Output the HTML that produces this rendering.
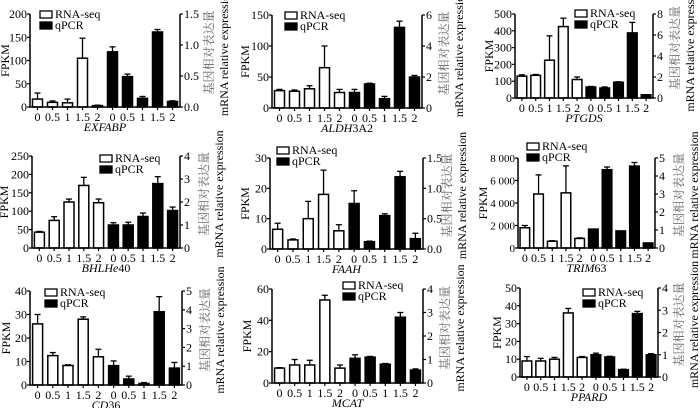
<!DOCTYPE html>
<html><head><meta charset="utf-8"><style>
body{margin:0;background:#fff}
svg{display:block;font-family:"Liberation Serif","Noto Serif CJK SC",serif}
</style></head><body>
<svg id="c" width="700" height="408" viewBox="0 0 700 408" xmlns="http://www.w3.org/2000/svg"></svg>
<script>
const genes = [["EXFABP",""],["ALDH","3A2"],["PTGDS",""],["BHLHe","40"],["FAAH",""],["TRIM","63"],["CD","36"],["MCAT",""],["PPARD",""]];
const timeLabels = ["0","0.5","1","1.5","2"];
const rnaSeq = [[17,10,9,105,3],[28,27,31,65,25],[130,135,225,425,110],[43,75,125,170,123],[6.5,3,10,18,6],[1800,4800,600,4900,850],[26,12.5,8.3,28,12],[9.5,11.5,11.5,53,9.5],[9,9,10,36,11]];
const rnaErr = [[13,3,8,43,1],[2,2,5,35,5],[8,5,145,50,15],[2,10,8,22,10],[2,0.3,5.7,8,2],[200,1700,50,2400,50],[4,1.3,0.3,1,3.2],[0.3,3.5,3,3,2],[2.5,1.5,1,2.5,0.5]];
const qpcr = [[0.89,0.49,0.14,1.21,0.09],[1.0,1.55,0.6,5.2,2.0],[1.05,0.95,1.5,6.2,0.3],[1.0,1.0,1.37,2.8,1.63],[0.75,0.12,0.55,1.19,0.17],[1.05,4.35,0.95,4.55,0.28],[1.03,0.32,0.08,3.9,0.9],[1.05,1.1,0.8,2.8,0.55],[1.0,0.9,0.33,2.85,1.0]];
const qpcrErr = [[0.08,0.04,0.03,0.04,0.01],[0.2,0.05,0.15,0.4,0.1],[0.05,0.1,0.05,1.0,0.02],[0.1,0.12,0.15,0.3,0.15],[0.21,0.01,0.03,0.09,0.09],[0,0.15,0,0.2,0],[0.25,0.15,0.05,0.8,0.3],[0.15,0.03,0.03,0.2,0.05],[0.07,0.03,0.02,0.1,0.05]];
const leftTicks = [["0","50","100","150","200"],["0","50","100","150"],["0","100","200","300","400","500"],["0","50","100","150","200","250"],["0","10","20","30"],["0","2 000","4 000","6 000","8 000"],["0","10","20","30","40"],["0","20","40","60"],["0","10","20","30","40","50"]];
const rightTicks = [["0.0","0.5","1.0","1.5"],["0","2","4","6"],["0","2","4","6","8"],["0","1","2","3","4"],["0.0","0.5","1.0","1.5"],["0","1","2","3","4","5"],["0","1","2","3","4","5"],["0","1","2","3","4"],["0","1","2","3","4"]];
// layout geometry: left x, right x, top y, bottom y, FPKM x, right label x, legend x, legend y, left tick font size
const geo = [[30,180,14,107,5,209,40,14,12],[272,422,15,108,245,444,285,15,12],[515,653,14,98,489,675,575,13,12],[32,180,156,248,4,204,100,158,12],[270,423,158,249,245,447,277,150,12],[518,655,158,248,483,679,527,146,11],[30,182,291,385,6,205,45,292,12],[272,423,289,383,247,445,343,285,12],[520,658,288,377,497,679,583,292,12]];
const NS="http://www.w3.org/2000/svg";
const svg=document.getElementById('c');
function mk(tag,attrs,parent){const e=document.createElementNS(NS,tag);for(const k in attrs)e.setAttribute(k,attrs[k]);(parent||svg).appendChild(e);return e;}
function num(s){return parseFloat(s.replace(/ /g,''));}
genes.forEach((g,p)=>{
  const [L,R,T,B,fx,rx,lx,ly,lfs]=geo[p];
  const grp=mk('g',{});
  
  
  const lMax=num(leftTicks[p][leftTicks[p].length-1]);
  const rMax=num(rightTicks[p][rightTicks[p].length-1]);
  const yL=v=>B-(v/lMax)*(B-T);
  const yR=v=>B-(v/rMax)*(B-T);
  const slot=(R-L)/10, bw=Math.min(10,slot*0.7);
  const xc=i=>L+slot*(i+0.5);
  function bar(i,v,e,y,fill,name){
    const x=xc(i);
    const ln=mk('line',{x1:x,x2:x,y1:y(v),y2:y(v+e),stroke:'#000','stroke-width':1.3},grp);
    
    
    if(e>0){const cp=mk('line',{x1:x-3,x2:x+3,y1:y(v+e),y2:y(v+e),stroke:'#000','stroke-width':1.3},grp);
      
      }
    const r=mk('rect',{x:x-bw/2,y:y(v),width:bw,height:B-y(v),fill:fill,stroke:'#000','stroke-width':1.5},grp);
    
    
  }
  rnaSeq[p].forEach((v,i)=>bar(i,v,rnaErr[p][i],yL,'#fff','rna-seq-bar-'+timeLabels[i]));
  qpcr[p].forEach((v,i)=>bar(i+5,v,qpcrErr[p][i],yR,'#000','qpcr-bar-'+timeLabels[i]));
  const ax=mk('path',{d:`M${L},${T}V${B}H${R}V${T}`,fill:'none',stroke:'#000','stroke-width':1.5},grp);
  
  
  leftTicks[p].forEach(t=>{const y=yL(num(t));
    mk('line',{x1:L-3,x2:L,y1:y,y2:y,stroke:'#000','stroke-width':1.2},grp);
    const tx=mk('text',{x:L-3,y:y+4,'text-anchor':'end','font-size':lfs},grp);tx.textContent=t;
    
    });
  rightTicks[p].forEach(t=>{const y=yR(num(t));
    mk('line',{x1:R,x2:R+3,y1:y,y2:y,stroke:'#000','stroke-width':1.2},grp);
    const tx=mk('text',{x:R+4,y:y+4,'font-size':12},grp);tx.textContent=t;
    
    });
  for(let i=0;i<10;i++){
    mk('line',{x1:xc(i),x2:xc(i),y1:B,y2:B+3,stroke:'#000','stroke-width':1.2},grp);
    const tx=mk('text',{x:xc(i),y:B+14,'text-anchor':'middle','font-size':12},grp);tx.textContent=timeLabels[i%5];
    
    
  }
  const gn=mk('text',{x:(L+R)/2,y:B+24,'text-anchor':'middle','font-size':12},grp);
  
  
  const t1=mk('tspan',{'font-style':'italic'},gn);t1.textContent=g[0];
  if(g[1]){const t2=mk('tspan',{},gn);t2.textContent=g[1];}
  const cy=(T+B)/2;
  const fp=mk('text',{x:fx,y:cy,'text-anchor':'middle','font-size':12,transform:`rotate(-90 ${fx} ${cy})`,dy:4},grp);
  fp.textContent='FPKM';
  
  
  const cy2=cy-8;
  const r1=mk('text',{x:rx,y:cy2,'text-anchor':'middle','font-size':12,fill:'#666',transform:`rotate(-90 ${rx} ${cy2})`,dy:4},grp);
  r1.textContent='基因相对表达量';
  
  
  const r2=mk('text',{x:rx+15,y:cy2,'text-anchor':'middle','font-size':12,transform:`rotate(-90 ${rx+15} ${cy2})`,dy:4},grp);
  r2.textContent='mRNA relative expression';
  
  
  [['RNA-seq','#fff'],['qPCR','#000']].forEach((lg,k)=>{
    const yy=ly+k*11;
    const lr=mk('rect',{x:lx,y:yy-3,width:12,height:7,fill:lg[1],stroke:'#000','stroke-width':1.3},grp);
    
    
    const lt=mk('text',{x:lx+15,y:yy+4,'font-size':12},grp);lt.textContent=lg[0];
    
    
  });
});
</script>
</body></html>
